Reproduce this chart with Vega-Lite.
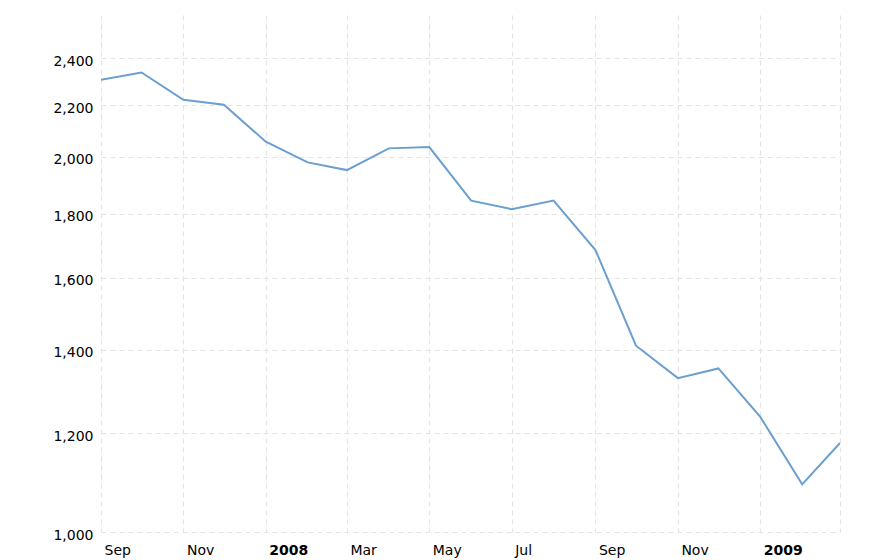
{
  "$schema": "https://vega.github.io/schema/vega-lite/v6.json",
  "autosize": {"type": "none"},
  "width": 739,
  "height": 517,
  "padding": {"left": 101, "top": 15, "right": 48, "bottom": 28},
  "background": "white",
  "config": {
    "view": {"stroke": null},
    "font": "DejaVu Sans"
  },
  "data": {
    "values": [
      {"date": "2007-09-01", "value": 2307},
      {"date": "2007-10-01", "value": 2338},
      {"date": "2007-11-01", "value": 2223},
      {"date": "2007-12-01", "value": 2203},
      {"date": "2008-01-01", "value": 2057},
      {"date": "2008-02-01", "value": 1980},
      {"date": "2008-03-01", "value": 1952},
      {"date": "2008-04-01", "value": 2032},
      {"date": "2008-05-01", "value": 2037},
      {"date": "2008-06-01", "value": 1845},
      {"date": "2008-07-01", "value": 1816},
      {"date": "2008-08-01", "value": 1845},
      {"date": "2008-09-01", "value": 1684},
      {"date": "2008-10-01", "value": 1411},
      {"date": "2008-11-01", "value": 1329},
      {"date": "2008-12-01", "value": 1353},
      {"date": "2009-01-01", "value": 1237},
      {"date": "2009-02-01", "value": 1092},
      {"date": "2009-03-01", "value": 1179}
    ]
  },
  "mark": {"type": "line", "color": "#6b9fcf", "strokeWidth": 2, "clip": true},
  "encoding": {
    "x": {
      "field": "date",
      "type": "temporal",
      "scale": {"domain": ["2007-09-01T00:00:00", "2009-03-01T00:00:00"], "nice": false},
      "axis": {
        "title": null,
        "domain": false,
        "ticks": false,
        "tickCount": {"interval": "month", "step": 2},
        "labelExpr": "datum.value >= datetime(2009, 1, 15) ? '' : (month(datum.value) == 0 ? timeFormat(datum.value, '%Y') : timeFormat(datum.value, '%b'))",
        "labelFontWeight": {"condition": {"test": "month(datum.value) == 0", "value": "bold"}, "value": "normal"},
        "labelAlign": "left",
        "labelBaseline": "top",
        "labelPadding": 11,
        "labelOffset": 3,
        "labelOverlap": false,
        "labelFont": "DejaVu Sans",
        "labelFontSize": 14,
        "labelColor": "#000000",
        "grid": true,
        "gridColor": "#e4e4e4",
        "gridDash": [5, 4],
        "gridWidth": 1.2
      }
    },
    "y": {
      "field": "value",
      "type": "quantitative",
      "scale": {"type": "log", "domain": [1000, 2600], "nice": false},
      "axis": {
        "title": null,
        "domain": false,
        "ticks": false,
        "values": [1000, 1200, 1400, 1600, 1800, 2000, 2200, 2400],
        "format": ",",
        "labelPadding": 8,
        "labelOffset": 3,
        "labelFont": "DejaVu Sans",
        "labelFontSize": 14,
        "labelColor": "#000000",
        "grid": true,
        "gridColor": "#e4e4e4",
        "gridDash": [5, 4],
        "gridWidth": 1.2
      }
    }
  }
}
